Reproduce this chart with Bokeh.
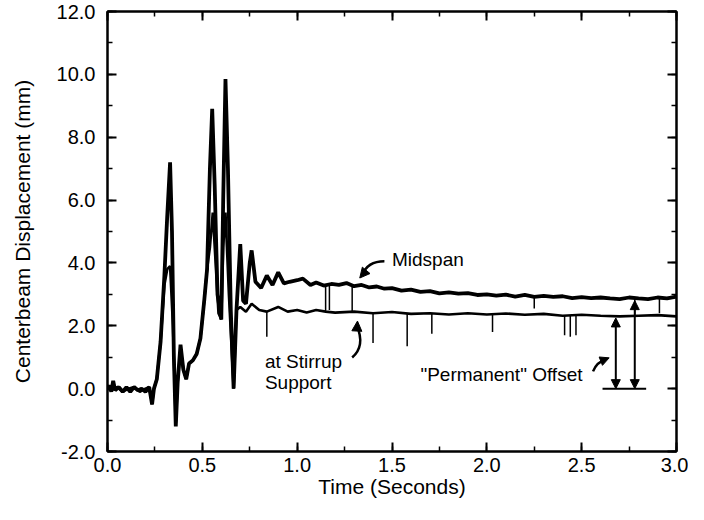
import numpy as np
from bokeh.plotting import figure
from bokeh.models import (LinearAxis, SingleIntervalTicker, PrintfTickFormatter, Range1d,
                          Arrow, NormalHead, CustomJSTickFormatter)
from bokeh.core.properties import value
from bokeh.embed import file_html
from bokeh.resources import INLINE

# ---------------- data ----------------
mid_t = [0.00, 0.01, 0.02, 0.03, 0.04, 0.06, 0.08, 0.10, 0.12, 0.14, 0.16, 0.18, 0.20, 0.22,
         0.235, 0.245, 0.26, 0.28, 0.30, 0.315, 0.33, 0.34, 0.35, 0.36, 0.37, 0.385, 0.40,
         0.415, 0.43, 0.45, 0.47, 0.49, 0.51, 0.525, 0.54, 0.552, 0.565, 0.58, 0.60, 0.61,
         0.622, 0.635, 0.65, 0.665, 0.68, 0.70, 0.715, 0.73, 0.75, 0.76, 0.78, 0.81, 0.84,
         0.87, 0.90, 0.93, 0.96, 1.00, 1.03, 1.07, 1.10, 1.14, 1.18, 1.22, 1.26, 1.30, 1.34,
         1.38, 1.42, 1.46, 1.50, 1.55, 1.60, 1.65, 1.70, 1.75, 1.80, 1.85, 1.90, 1.95, 2.00,
         2.05, 2.10, 2.15, 2.20, 2.25, 2.30, 2.35, 2.40, 2.45, 2.50, 2.55, 2.60, 2.65, 2.70,
         2.75, 2.80, 2.85, 2.90, 2.95, 3.00]
mid_v = [0.0, 0.1, -0.1, 0.25, -0.05, 0.05, -0.1, 0.05, -0.1, 0.05, -0.05, 0.0, -0.1, 0.05,
         -0.5, 0.0, 0.3, 1.5, 3.6, 5.5, 7.2, 5.0, 1.0, -1.2, 0.2, 1.4, 0.6,
         0.3, 0.8, 0.9, 1.1, 1.6, 2.8, 3.8, 7.0, 8.9, 6.5, 3.0, 2.2, 6.0,
         9.85, 7.0, 2.5, 0.0, 2.5, 4.6, 2.8, 2.7, 4.0, 4.4, 3.4, 3.2, 3.6,
         3.3, 3.7, 3.35, 3.4, 3.45, 3.5, 3.3, 3.38, 3.28, 3.33, 3.3, 3.36, 3.26, 3.3,
         3.22, 3.25, 3.18, 3.2, 3.12, 3.15, 3.08, 3.1, 3.03, 3.06, 3.02, 3.04, 2.98, 3.0,
         2.96, 2.99, 2.93, 2.98, 2.92, 2.95, 2.92, 2.94, 2.88, 2.91, 2.88, 2.9, 2.87, 2.85,
         2.9, 2.87, 2.85, 2.9, 2.87, 2.93]

stir_t = [0.00, 0.02, 0.05, 0.08, 0.11, 0.14, 0.17, 0.20, 0.22, 0.235, 0.245, 0.26, 0.28,
          0.30, 0.315, 0.33, 0.345, 0.36, 0.37, 0.385, 0.40, 0.415, 0.43, 0.45, 0.47, 0.49,
          0.51, 0.525, 0.54, 0.555, 0.57, 0.585, 0.60, 0.61, 0.622, 0.64, 0.665, 0.68,
          0.70, 0.73, 0.76, 0.80, 0.84, 0.90, 0.95, 1.00, 1.05, 1.10, 1.15, 1.20, 1.30,
          1.40, 1.50, 1.60, 1.70, 1.80, 1.90, 2.00, 2.10, 2.20, 2.30, 2.40, 2.50, 2.60,
          2.70, 2.80, 2.90, 3.00]
stir_v = [0.0, -0.05, 0.05, -0.1, 0.0, 0.05, -0.1, 0.0, 0.05, -0.5, 0.0, 0.3, 1.5,
          3.3, 3.8, 3.9, 2.0, -1.1, 0.2, 1.3, 0.6, 0.3, 0.8, 0.9, 1.1, 1.6,
          2.8, 3.8, 4.5, 5.6, 4.0, 2.4, 2.2, 4.5, 5.6, 3.0, 0.0, 2.5,
          2.6, 2.45, 2.7, 2.5, 2.45, 2.6, 2.45, 2.5, 2.42, 2.5, 2.45, 2.42, 2.45,
          2.4, 2.44, 2.38, 2.4, 2.36, 2.4, 2.36, 2.39, 2.35, 2.38, 2.32, 2.35, 2.32,
          2.3, 2.32, 2.34, 2.3]

# downward spikes (time, lowest value)
mid_spike_t = [1.15, 1.17, 1.29, 2.25, 2.78, 2.91]
mid_spike_v = [2.45, 2.5, 2.45, 2.55, 2.35, 2.4]
stir_spike_t = [0.84, 1.40, 1.58, 1.71, 2.03, 2.41, 2.44, 2.47]
stir_spike_v = [1.65, 1.45, 1.35, 1.75, 1.8, 1.7, 1.65, 1.7]

# "permanent" offsets
offset_t = [2.68, 2.78]
offset_v = [2.25, 2.8]

FONT = "Liberation Sans"

p = figure(width=688, height=504, output_backend="svg", toolbar_location=None,
           x_range=Range1d(0, 3.0), y_range=Range1d(-2.0, 12.0),
           min_border_left=107, min_border_right=12, min_border_top=11, min_border_bottom=53)
p.grid.visible = False
p.outline_line_color = "black"
p.outline_line_width = 2
p.background_fill_color = "white"

def style_axis(ax):
    ax.major_tick_in = 9
    ax.major_tick_out = 0
    ax.minor_tick_in = 5
    ax.minor_tick_out = 0
    ax.axis_line_width = 2
    ax.major_tick_line_width = 2
    ax.minor_tick_line_width = 1.5
    ax.major_label_text_font = FONT
    ax.major_label_text_color = "black"
    ax.axis_label_text_font = FONT
    ax.axis_label_text_font_style = "normal"
    ax.axis_label_text_color = "black"

p.xaxis.ticker = SingleIntervalTicker(interval=0.5, num_minor_ticks=2)
p.yaxis.ticker = SingleIntervalTicker(interval=2.0, num_minor_ticks=2)
p.xaxis.formatter = PrintfTickFormatter(format="%.1f")
p.yaxis.formatter = PrintfTickFormatter(format="%.1f")
style_axis(p.xaxis[0])
style_axis(p.yaxis[0])
p.xaxis.major_label_text_font_size = "20px"
p.yaxis.major_label_text_font_size = "20px"
p.xaxis.axis_label = "Time (Seconds)"
p.yaxis.axis_label = "Centerbeam Displacement (mm)"
p.xaxis.axis_label_text_font_size = "21px"
p.yaxis.axis_label_text_font_size = "21px"
p.xaxis.major_label_standoff = 6
p.xaxis.axis_label_standoff = 0
p.yaxis.major_label_standoff = 12
p.yaxis.axis_label_standoff = 20

blank = CustomJSTickFormatter(code="return ''")
ax_r = LinearAxis(ticker=SingleIntervalTicker(interval=2.0, num_minor_ticks=2), formatter=blank)
ax_t = LinearAxis(ticker=SingleIntervalTicker(interval=0.5, num_minor_ticks=2), formatter=blank)
style_axis(ax_r)
style_axis(ax_t)
ax_r.major_label_standoff = 0
ax_t.major_label_standoff = 0
p.add_layout(ax_r, "right")
p.add_layout(ax_t, "above")

# series
p.line(stir_t, stir_v, line_color="black", line_width=2.6)
p.line(mid_t, mid_v, line_color="black", line_width=3.8)

mid_top = np.interp(mid_spike_t, mid_t, mid_v)
stir_top = np.interp(stir_spike_t, stir_t, stir_v)
p.segment(x0=mid_spike_t, x1=mid_spike_t, y0=mid_top, y1=mid_spike_v, line_color="black", line_width=1.5)
p.segment(x0=stir_spike_t, x1=stir_spike_t, y0=stir_top, y1=stir_spike_v, line_color="black", line_width=1.5)

# permanent offset arrows and baseline
for tt, vv in zip(offset_t, offset_v):
    p.add_layout(Arrow(start=NormalHead(size=9, fill_color="black", line_color="black"),
                       end=NormalHead(size=9, fill_color="black", line_color="black"),
                       x_start=tt, y_start=0.0, x_end=tt, y_end=vv, line_width=2))
p.segment(x0=[2.61], x1=[2.84], y0=[0.0], y1=[0.0], line_color="black", line_width=2)

# annotations
tf = value(FONT)
p.text(x=[1.50], y=[4.11], text=["Midspan"], text_font=tf, text_font_size="19px",
       text_baseline="middle", text_align="left", text_color="black")
p.text(x=[0.83], y=[0.86], text=["at Stirrup"], text_font=tf, text_font_size="19px",
       text_baseline="middle", text_align="left", text_color="black")
p.text(x=[0.83], y=[0.18], text=["Support"], text_font=tf, text_font_size="19px",
       text_baseline="middle", text_align="left", text_color="black")
p.text(x=[1.65], y=[0.45], text=['"Permanent" Offset'], text_font=tf, text_font_size="19px",
       text_baseline="middle", text_align="left", text_color="black")

# curved pointer arrows
p.quadratic(x0=[1.46], y0=[4.05], x1=[1.345], y1=[3.62], cx=[1.37], cy=[4.05],
            line_color="black", line_width=2.5)
p.add_layout(Arrow(end=NormalHead(size=10, fill_color="black", line_color="black"),
                   x_start=1.355, y_start=3.7, x_end=1.33, y_end=3.52, line_width=2.5))
p.quadratic(x0=[1.29], y0=[0.99], x1=[1.315], y1=[2.0], cx=[1.36], cy=[1.35],
            line_color="black", line_width=2.5)
p.add_layout(Arrow(end=NormalHead(size=10, fill_color="black", line_color="black"),
                   x_start=1.316, y_start=1.95, x_end=1.318, y_end=2.15, line_width=2.5))
p.quadratic(x0=[2.56], y0=[0.55], x1=[2.625], y1=[0.92], cx=[2.58], cy=[0.85],
            line_color="black", line_width=2.5)
p.add_layout(Arrow(end=NormalHead(size=9, fill_color="black", line_color="black"),
                   x_start=2.62, y_start=0.92, x_end=2.645, y_end=0.98, line_width=2.5))

open("out.html", "w").write(file_html(p, INLINE))
